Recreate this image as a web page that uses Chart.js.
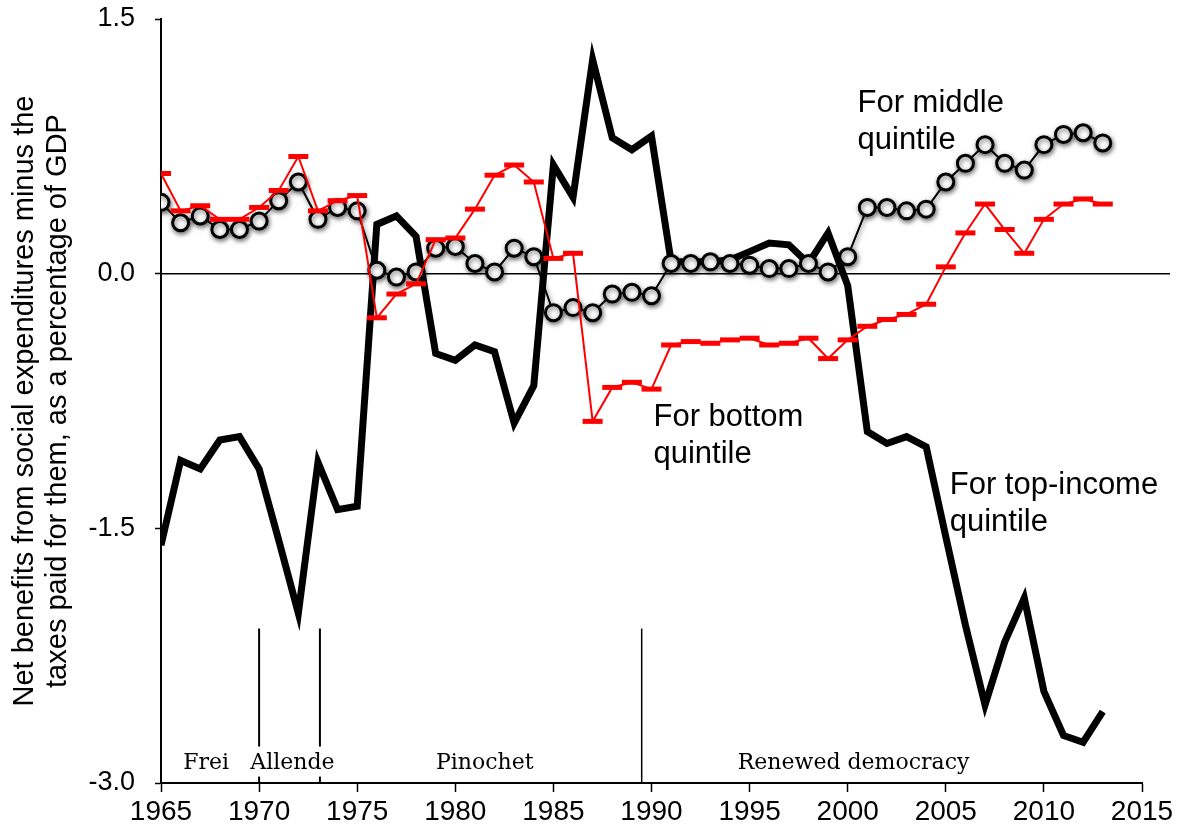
<!DOCTYPE html>
<html>
<head>
<meta charset="utf-8">
<script src="https://cdn.jsdelivr.net/npm/chart.js@4.4.1/dist/chart.umd.min.js"></script>
<style>
  body { margin: 0; background: #fff; }
  canvas { display: block; }
</style>
</head>
<body>
<canvas id="netChart" width="1184" height="835"></canvas>
<script>
const years = [1965, 1966, 1967, 1968, 1969, 1970, 1971, 1972, 1973, 1974,
  1975, 1976, 1977, 1978, 1979, 1980, 1981, 1982, 1983, 1984,
  1985, 1986, 1987, 1988, 1989, 1990, 1991, 1992, 1993, 1994,
  1995, 1996, 1997, 1998, 1999, 2000, 2001, 2002, 2003, 2004,
  2005, 2006, 2007, 2008, 2009, 2010, 2011, 2012, 2013];

const topQuintile = [-1.60, -1.10, -1.15, -0.98, -0.96, -1.15, -1.57, -2.00, -1.11, -1.39,
  -1.37, 0.29, 0.34, 0.22, -0.47, -0.51, -0.42, -0.46, -0.88, -0.66,
  0.64, 0.45, 1.26, 0.80, 0.73, 0.81, 0.07, 0.07, 0.07, 0.08,
  0.13, 0.18, 0.17, 0.06, 0.24, -0.07, -0.93, -1.00, -0.96, -1.02,
  -1.55, -2.07, -2.54, -2.17, -1.91, -2.46, -2.72, -2.76, -2.58];

const middleQuintile = [0.42, 0.30, 0.34, 0.26, 0.26, 0.31, 0.43, 0.54, 0.32, 0.39,
  0.37, 0.02, -0.02, 0.01, 0.15, 0.16, 0.06, 0.01, 0.15, 0.10,
  -0.23, -0.20, -0.23, -0.12, -0.11, -0.13, 0.06, 0.06, 0.07, 0.06,
  0.05, 0.03, 0.03, 0.06, 0.01, 0.10, 0.39, 0.39, 0.37, 0.38,
  0.54, 0.65, 0.76, 0.65, 0.61, 0.76, 0.82, 0.83, 0.77];

const bottomQuintile = [0.59, 0.37, 0.40, 0.32, 0.32, 0.39, 0.49, 0.69, 0.37, 0.43,
  0.46, -0.26, -0.12, -0.06, 0.20, 0.21, 0.38, 0.58, 0.64, 0.54,
  0.09, 0.12, -0.87, -0.67, -0.64, -0.68, -0.42, -0.40, -0.41, -0.39,
  -0.38, -0.42, -0.41, -0.38, -0.50, -0.39, -0.31, -0.27, -0.24, -0.18,
  0.04, 0.24, 0.41, 0.26, 0.12, 0.32, 0.41, 0.44, 0.41];

// periods of government, shown along the bottom
const eraLabels = ['Frei', 'Allende', 'Pinochet', 'Renewed democracy'];
const eraCenters = [1967.3, 1971.7, 1981.5, 2000.3];
const eraBreaks = [1970, 1973.1, 1989.5];

// text labels next to the series
const noteLines = [['For middle', 'quintile'], ['For bottom', 'quintile'], ['For top-income', 'quintile']];
const noteYears = [2000.5, 1990.1, 2005.2];
const noteValues = [0.954, -0.90, -1.296];

const sans = '"Liberation Sans", Arial, sans-serif';

const extras = {
  id: 'extras',
  beforeDatasetsDraw(chart) {
    const { ctx, chartArea, scales } = chart;
    const y0 = scales.y.getPixelForValue(0);
    ctx.save();
    ctx.strokeStyle = '#000';
    ctx.lineWidth = 1.5;
    ctx.beginPath();
    ctx.moveTo(chartArea.left, y0);
    ctx.lineTo(chartArea.right + 28, y0);
    ctx.stroke();
    ctx.restore();
  },
  beforeDatasetDraw(chart, args) {
    if (args.index === 1) {
      const ctx = chart.ctx;
      ctx.save();
      ctx.shadowColor = 'rgba(0,0,0,0.55)';
      ctx.shadowBlur = 5;
      ctx.shadowOffsetX = 1;
      ctx.shadowOffsetY = 2;
    }
  },
  afterDatasetDraw(chart, args) {
    if (args.index === 1) chart.ctx.restore();
  },
  afterDatasetsDraw(chart) {
    const { ctx, scales } = chart;
    const x = scales.x, y = scales.y;
    const top = y.getPixelForValue(-2.09);
    const bottom = y.getPixelForValue(-3);
    const labelY = y.getPixelForValue(-2.915);
    ctx.save();
    ctx.strokeStyle = '#000';
    eraBreaks.forEach((yr, i) => {
      const px = x.getPixelForValue(yr);
      ctx.lineWidth = i < 2 ? 2 : 1.5;
      ctx.beginPath();
      ctx.moveTo(px, top);
      ctx.lineTo(px, bottom);
      ctx.stroke();
    });
    ctx.font = '22px "DejaVu Serif", serif';
    ctx.textAlign = 'center';
    ctx.textBaseline = 'alphabetic';
    eraLabels.forEach((label, i) => {
      const px = x.getPixelForValue(eraCenters[i]);
      const w = ctx.measureText(label).width;
      ctx.fillStyle = '#fff';
      ctx.fillRect(px - w / 2 - 2, labelY - 22, w + 4, 30);
      ctx.fillStyle = '#000';
      ctx.fillText(label, px, labelY);
    });
    ctx.font = '31px ' + sans;
    ctx.textAlign = 'left';
    noteLines.forEach((lines, i) => {
      const px = x.getPixelForValue(noteYears[i]);
      const py = y.getPixelForValue(noteValues[i]);
      lines.forEach((line, j) => ctx.fillText(line, px, py + j * 37));
    });
    ctx.restore();
  }
};

new Chart(document.getElementById('netChart'), {
  type: 'line',
  data: {
    labels: years,
    datasets: [
      {
        label: 'For bottom quintile',
        data: bottomQuintile,
        borderColor: '#ff0000',
        borderWidth: 2,
        pointStyle: 'line',
        pointRadius: 10,
        pointBorderWidth: 5,
        pointBorderColor: '#ff0000',
        order: 0
      },
      {
        label: 'For middle quintile',
        data: middleQuintile,
        borderColor: '#000',
        borderWidth: 2,
        pointStyle: 'circle',
        pointRadius: 8,
        pointBorderWidth: 3,
        pointBorderColor: '#000',
        pointBackgroundColor: '#fff',
        order: 1
      },
      {
        label: 'For top-income quintile',
        data: topQuintile,
        borderColor: '#000',
        borderWidth: 7,
        borderJoinStyle: 'miter',
        pointRadius: 0,
        order: 2
      }
    ]
  },
  options: {
    responsive: false,
    animation: false,
    layout: { padding: { top: 19, right: 42, left: 0, bottom: 0 } },
    plugins: {
      legend: { display: false },
      tooltip: { enabled: false }
    },
    scales: {
      x: {
        type: 'linear',
        min: 1965,
        max: 2015,
        afterFit: s => { s.height = 52; },
        ticks: {
          stepSize: 5,
          padding: 3,
          color: '#000',
          font: { family: sans, size: 28 },
          callback: v => String(v)
        },
        grid: { drawOnChartArea: false, tickLength: 9, tickColor: '#000', tickWidth: 1.5 },
        border: { color: '#000', width: 2 }
      },
      y: {
        min: -3,
        max: 1.5,
        afterFit: s => { s.width = 161; s.paddingTop = 0; s.paddingBottom = 0; },
        ticks: {
          stepSize: 1.5,
          padding: 20,
          color: '#000',
          font: { family: sans, size: 27 },
          callback: v => v.toFixed(1)
        },
        grid: { drawOnChartArea: false, tickLength: 6, tickColor: '#000', tickWidth: 1.5 },
        border: { color: '#000', width: 2 },
        title: {
          display: true,
          text: ['Net benefits from social expenditures minus the', 'taxes paid for them, as a percentage of GDP'],
          color: '#000',
          font: { family: sans, size: 29, lineHeight: 1.15 },
          padding: { top: 8, bottom: 0 }
        }
      }
    }
  },
  plugins: [extras]
});
</script>
</body>
</html>
